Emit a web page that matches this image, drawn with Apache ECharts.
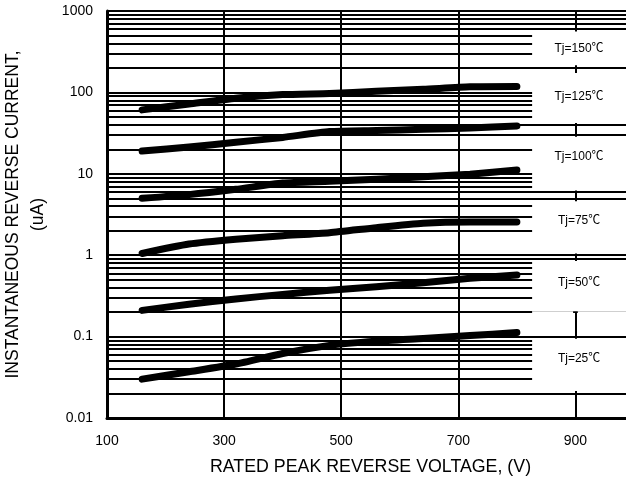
<!DOCTYPE html>
<html>
<head>
<meta charset="utf-8">
<script src="https://cdn.jsdelivr.net/npm/echarts@6/dist/echarts.min.js"></script>
<style>
    html, body { margin: 0; padding: 0; background: #fff; }
    #main { width: 626px; height: 480px; }
</style>
</head>
<body>
<div id="main"></div>
<script>
// rated peak reverse voltage (V) at which the curves were read
var voltages = [160, 240, 320, 400, 480, 560, 640, 720, 800];

// instantaneous reverse current (uA)
var tj25  = [0.030, 0.037, 0.046, 0.062, 0.078, 0.088, 0.095, 0.103, 0.112];
var tj50  = [0.21, 0.25, 0.29, 0.33, 0.37, 0.41, 0.46, 0.52, 0.57];
var tj75  = [1.05, 1.37, 1.57, 1.73, 1.89, 2.18, 2.47, 2.56, 2.55];
var tj100 = [5.0, 5.55, 6.45, 7.7, 8.1, 8.6, 9.2, 9.9, 11.1];
var tj125 = [19, 21.3, 24.4, 28, 33, 34, 35.2, 36.6, 38.7];
var tj150 = [61, 72, 85, 94, 97, 103, 109, 117, 118];

var tempLabels = ['Tj=25℃', 'Tj=50℃', 'Tj=75℃', 'Tj=100℃', 'Tj=125℃', 'Tj=150℃'];
var xTickLabels = ['100', '300', '500', '700', '900'];
var yTickLabels = ['0.01', '0.1', '1', '10', '100', '1000'];

// log grid: 1..9 in every decade, plus the top line
var gridMantissas = [1, 2, 3, 4, 5, 6, 7, 8, 9];
var gridDecades = [0.01, 0.1, 1, 10, 100];

var font = "'Liberation Sans', Arial, 'Noto Sans CJK SC', sans-serif";

var gridValues = [];
gridDecades.forEach(function (d) {
    gridMantissas.forEach(function (m) {
        gridValues.push(+(m * d).toPrecision(3));
    });
});
gridValues.push(1000);

function pairs(ys) {
    return voltages.map(function (v, i) { return [v, ys[i]]; });
}

// white label boxes on the right: [yLow, yHigh, label distance]
var boxLayout = [
    [0.0215, 0.094, 14],
    [0.205, 0.85, 16],
    [1.05, 4.6, 13],
    [6.25, 28.5, 14],
    [42, 173, 18],
    [215, 560, 11]
];
var boxLeft = 826, boxRight = 1000;

var areas = boxLayout.map(function (b, i) {
    return [{
        xAxis: boxLeft, yAxis: b[0],
        label: {
            show: true, position: 'insideTop', distance: b[2], offset: [-4, 0],
            formatter: tempLabels[i], color: '#000', fontSize: 12, fontFamily: font
        }
    }, { xAxis: boxRight, yAxis: b[1] }];
});
// strip below the Tj=50 box, where the 900 V line still shows
areas.push([{ xAxis: boxLeft, yAxis: 0.105 }, { xAxis: 896, yAxis: 0.205 }]);
areas.push([{ xAxis: 904, yAxis: 0.105 }, { xAxis: boxRight, yAxis: 0.205 }]);

var curveStyle = { color: '#000', width: 7, cap: 'round', join: 'round' };

var curves = [tj25, tj50, tj75, tj100, tj125, tj150];
var series = curves.map(function (ys, i) {
    return {
        name: tempLabels[i],
        type: 'line',
        data: pairs(ys),
        showSymbol: false,
        symbol: 'none',
        smooth: 0.2,
        z: 10,
        silent: true,
        lineStyle: curveStyle
    };
});

series[0].markLine = {
    z: 2,
    silent: true,
    symbol: 'none',
    animation: false,
    label: { show: false },
    lineStyle: { color: '#000', width: 2, type: 'solid' },
    emphasis: { disabled: true },
    data: gridValues.map(function (v) { return { yAxis: v }; })
};
series[0].markArea = {
    z: 3,
    silent: true,
    animation: false,
    itemStyle: { color: '#fff', opacity: 1 },
    emphasis: { disabled: true },
    data: areas
};

var myChart = echarts.init(document.getElementById('main'), null, { renderer: 'canvas' });

var option = {
    animation: false,
    backgroundColor: '#fff',
    grid: { left: 107, top: 11, right: -8, bottom: 62, containLabel: false, outerBoundsMode: 'none' },
    xAxis: {
        type: 'value',
        min: 100,
        max: 1000,
        interval: 200,
        name: 'RATED PEAK REVERSE VOLTAGE, (V)',
        nameLocation: 'middle',
        nameGap: 40,
        nameTextStyle: { color: '#000', fontSize: 17.8, fontFamily: font },
        axisLine: { show: true, lineStyle: { color: '#000', width: 3 } },
        axisTick: { show: false },
        axisLabel: {
            color: '#000', fontSize: 14, fontFamily: font, margin: 16,
            showMaxLabel: false,
            formatter: function (v) {
                var i = (v - 100) / 200;
                return xTickLabels[i] || '';
            }
        },
        splitLine: { show: true, lineStyle: { color: '#000', width: 2 } }
    },
    yAxis: {
        type: 'log',
        logBase: 10,
        min: 0.01,
        max: 1000,
        name: 'INSTANTANEOUS REVERSE CURRENT,\n(uA)',
        nameLocation: 'middle',
        nameGap: 52,
        nameTextStyle: { color: '#000', fontSize: 17.5, fontFamily: font, lineHeight: 25 },
        axisLine: { show: true, lineStyle: { color: '#000', width: 3 } },
        axisTick: { show: false },
        axisLabel: {
            color: '#000', fontSize: 14, fontFamily: font, margin: 14,
            padding: [6, 0, 0, 0],
            formatter: function (v, idx) { return yTickLabels[idx]; }
        },
        splitLine: { show: false }
    },
    series: series
};

myChart.setOption(option);
</script>
</body>
</html>
